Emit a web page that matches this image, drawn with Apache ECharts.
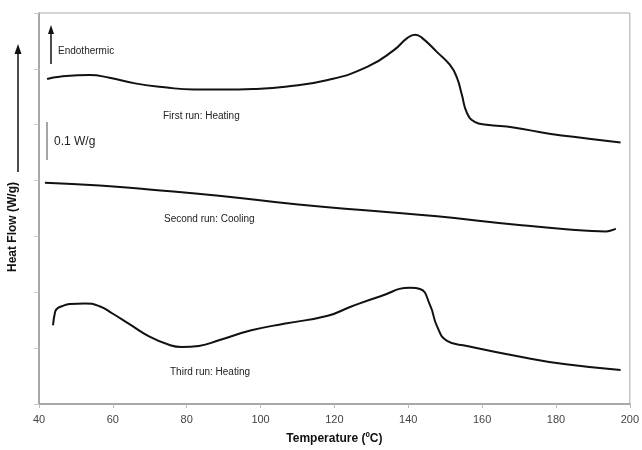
<!DOCTYPE html>
<html><head><meta charset="utf-8">
<script src="https://cdn.jsdelivr.net/npm/echarts@6/dist/echarts.min.js"></script>
<style>html,body{margin:0;padding:0;background:#fff}#c{width:642px;height:450px}</style>
</head><body><div id="c"></div>
<script>
// Temperature (°C) and heat flow (arbitrary units, 1 unit = one y tick)
const firstT = [42.2,45.6,53.7,59.1,66,74,82,90,98,106.7,118.2,129,136.2,139.7,141.9,143.8,147.8,151.3,153.2,154.5,155.9,158,161.2,168.5,178.2,188.9,197.5];
const firstV = [5.82,5.86,5.89,5.84,5.74,5.67,5.63,5.63,5.64,5.68,5.80,6.04,6.34,6.55,6.61,6.55,6.30,6.07,5.84,5.54,5.21,5.05,5.00,4.95,4.84,4.75,4.68];
const secondT = [41.6,56.4,69.8,88.7,110.2,131.7,147.8,169.3,182.7,193.5,195.1,196.2];
const secondV = [3.96,3.91,3.84,3.73,3.57,3.45,3.36,3.21,3.13,3.09,3.11,3.14];
const thirdT = [43.8,44.3,44.8,46.2,48.3,52.4,56.4,59.9,64.5,69.8,75.2,78.7,83.3,88.7,97.5,106.7,118.2,124.4,132.5,140.5,143.2,145.9,147.8,150.5,155.9,169.3,182.7,197.5];
const thirdV = [1.41,1.63,1.70,1.75,1.79,1.80,1.75,1.62,1.43,1.21,1.06,1.02,1.04,1.14,1.32,1.44,1.58,1.74,1.93,2.08,2.06,1.77,1.39,1.13,1.04,0.86,0.71,0.61];
const xTicks = [40,60,80,100,120,140,160,180,200];
const runLabels = ["First run: Heating","Second run: Cooling","Third run: Heating"];

const zip = (a,b)=>a.map((t,i)=>[t,b[i]]);
const chart = echarts.init(document.getElementById('c'));
const FONT = '"Liberation Sans", Arial, sans-serif';
const lineS = (data)=>({type:'line',data,smooth:0.5,symbol:'none',lineStyle:{color:'#111',width:2},silent:true});
const txt = (x,y,s,size,extra)=>Object.assign({type:'text',left:x,top:y,style:{text:s,fill:'#222',font:(size||11)+'px '+FONT}},extra||{});

chart.setOption({
  animation:false,
  backgroundColor:'#fff',
  grid:{left:39,right:6,top:13,bottom:45,show:true,borderColor:'#aaa',borderWidth:1},
  xAxis:{type:'value',min:40,max:200,interval:20,
    axisLine:{lineStyle:{color:'#999',width:1.5}},
    axisTick:{show:true,length:4,lineStyle:{color:'#bbb'}},
    axisLabel:{color:'#444',fontSize:11,fontFamily:FONT,margin:10,
      formatter:v=>xTicks.includes(v)?String(v):''},
    splitLine:{show:false},
    name:'Temperature (ºC)',nameLocation:'middle',nameGap:29,
    nameTextStyle:{color:'#111',fontSize:12,fontWeight:'bold',fontFamily:FONT}},
  yAxis:{type:'value',min:0,max:7,interval:1,
    axisLine:{show:true,lineStyle:{color:'#999',width:1.5}},
    axisTick:{show:true,length:5,lineStyle:{color:'#ccc'}},
    axisLabel:{show:false},splitLine:{show:false}},
  series:[lineS(zip(firstT,firstV)),lineS(zip(secondT,secondV)),lineS(zip(thirdT,thirdV))],
  graphic:[
    // y-axis title with arrow
    {type:'line',shape:{x1:18,y1:172,x2:18,y2:52},style:{stroke:'#111',lineWidth:1.5}},
    {type:'polygon',shape:{points:[[18,44],[14.5,54],[21.5,54]]},style:{fill:'#111'}},
    {type:'text',x:13,y:227,rotation:Math.PI/2,style:{text:'Heat Flow (W/g)',fill:'#111',font:'bold 12px '+FONT,align:'center',verticalAlign:'middle'}},
    // endothermic arrow
    {type:'line',shape:{x1:51,y1:64,x2:51,y2:32},style:{stroke:'#111',lineWidth:1.5}},
    {type:'polygon',shape:{points:[[51,25],[48,34],[54,34]]},style:{fill:'#111'}},
    txt(58,46,'Endothermic',10),
    // scale bar
    {type:'line',shape:{x1:47,y1:122,x2:47,y2:160},style:{stroke:'#888',lineWidth:1.5}},
    txt(54,136,'0.1 W/g',12),
    txt(163,111,runLabels[0],10),
    txt(164,214,runLabels[1],10),
    txt(170,367,runLabels[2],10)
  ]
});
</script></body></html>
